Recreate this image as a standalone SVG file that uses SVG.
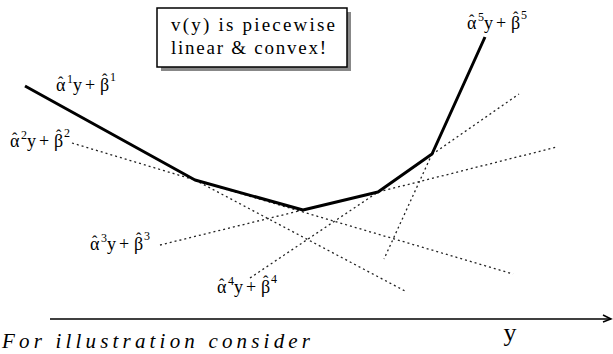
<svg xmlns="http://www.w3.org/2000/svg" width="613" height="354" viewBox="0 0 613 354">
<style>
.dash{fill:none;stroke:#222;stroke-width:1.3;stroke-dasharray:2 3}
.solid{fill:none;stroke:#000;stroke-width:3;stroke-linejoin:round}
.lbl{font-family:"Liberation Serif",serif;font-size:18px;fill:#000}
.sup{font-size:12px}
.hat{font-size:16px}
.box{font-family:"Liberation Serif",serif;font-size:19px;fill:#000}
</style>
<rect width="613" height="354" fill="#fff"/>
<g id="connectors">
<polyline class="dash" points="72,143 195,180 303,212 513,274"/>
<polyline class="dash" points="195,180 405,291"/>
<polyline class="dash" points="160,245 303,210 378,192 557,147"/>
<polyline class="dash" points="250,278 378,192 519,94"/>
<polyline class="dash" points="432,154 384,259"/>
<polyline class="solid" points="25,86 195,180 303,210 378,192 432,154 485,37"/>
<line x1="50" y1="319" x2="611" y2="319" stroke="#000" stroke-width="1.5"/>
<polyline points="603,315 611,319 603,322" fill="none" stroke="#000" stroke-width="1.5"/>
</g>
<g id="note">
<rect x="161" y="12" width="190" height="59" fill="#888"/>
<rect x="157" y="8" width="190" height="59" fill="#fff" stroke="#000" stroke-width="1.5"/>
<text class="box" x="171" y="31" textLength="164" lengthAdjust="spacing">v(y) is piecewise</text>
<text class="box" x="171" y="54" textLength="155" lengthAdjust="spacing">linear &amp; convex!</text>
</g>
<g id="label1"><text class="lbl"><tspan x="56" y="91">α</tspan><tspan class="hat" x="58" y="88">ˆ</tspan><tspan class="sup" x="67" y="83">1</tspan><tspan x="73" y="91">y</tspan><tspan x="85" y="91">+</tspan><tspan x="100" y="91">β</tspan><tspan class="hat" x="102" y="85">ˆ</tspan><tspan class="sup" x="110" y="81">1</tspan></text></g>
<g id="label2"><text class="lbl"><tspan x="10" y="147">α</tspan><tspan class="hat" x="12" y="144">ˆ</tspan><tspan class="sup" x="21" y="139">2</tspan><tspan x="27" y="147">y</tspan><tspan x="39" y="147">+</tspan><tspan x="54" y="147">β</tspan><tspan class="hat" x="56" y="141">ˆ</tspan><tspan class="sup" x="64" y="137">2</tspan></text></g>
<g id="label3"><text class="lbl"><tspan x="90" y="250">α</tspan><tspan class="hat" x="92" y="247">ˆ</tspan><tspan class="sup" x="101" y="242">3</tspan><tspan x="107" y="250">y</tspan><tspan x="119" y="250">+</tspan><tspan x="134" y="250">β</tspan><tspan class="hat" x="136" y="244">ˆ</tspan><tspan class="sup" x="144" y="240">3</tspan></text></g>
<g id="label4"><text class="lbl"><tspan x="217" y="293">α</tspan><tspan class="hat" x="219" y="290">ˆ</tspan><tspan class="sup" x="228" y="285">4</tspan><tspan x="234" y="293">y</tspan><tspan x="246" y="293">+</tspan><tspan x="261" y="293">β</tspan><tspan class="hat" x="263" y="287">ˆ</tspan><tspan class="sup" x="271" y="283">4</tspan></text></g>
<g id="label5"><text class="lbl"><tspan x="467" y="29">α</tspan><tspan class="hat" x="469" y="26">ˆ</tspan><tspan class="sup" x="478" y="21">5</tspan><tspan x="484" y="29">y</tspan><tspan x="496" y="29">+</tspan><tspan x="511" y="29">β</tspan><tspan class="hat" x="513" y="23">ˆ</tspan><tspan class="sup" x="521" y="19">5</tspan></text></g>
<g id="axislabel"><text x="510" y="341" text-anchor="middle" font-family="Liberation Serif,serif" font-size="26">y</text></g>
<g id="caption"><text x="2" y="348" font-family="Liberation Serif,serif" font-style="italic" font-size="21" textLength="308" lengthAdjust="spacing">For illustration consider</text></g>
</svg>
